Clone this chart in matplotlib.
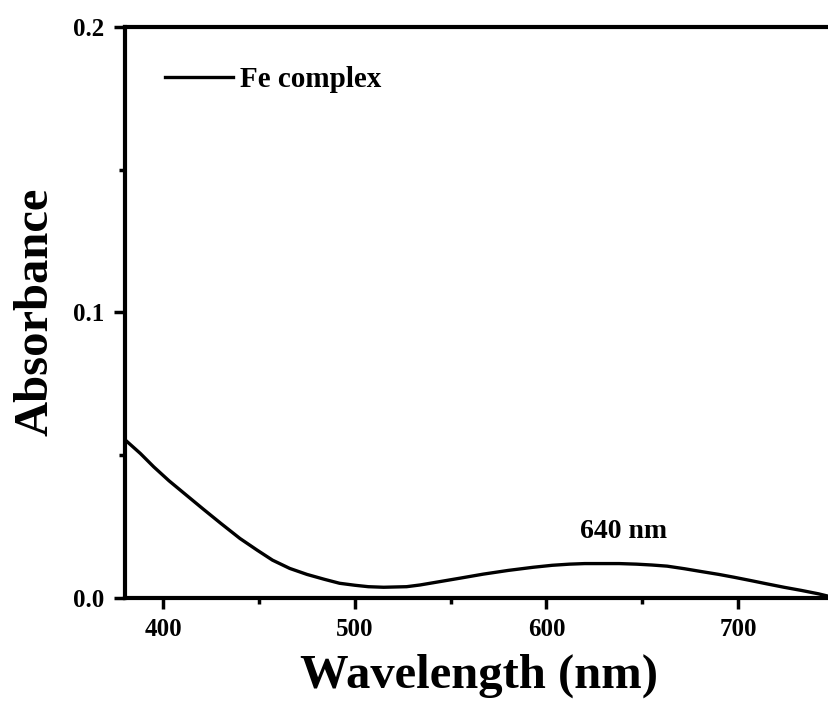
import numpy as np
import matplotlib
matplotlib.use("Agg")
import matplotlib.pyplot as plt
from matplotlib.ticker import MultipleLocator

# values
wavelength = [380, 388, 395, 403, 412, 421, 430, 440, 449, 457, 466, 475,
              484, 492, 500, 507, 515, 527, 534, 541, 548, 555, 567, 580,
              593, 603, 612, 620, 628, 638, 647, 655, 663, 672, 680, 690,
              698, 707, 715, 724, 733, 742, 750]
absorbance = [0.0553, 0.0505, 0.0458, 0.0409, 0.0359, 0.0309, 0.0260, 0.0207,
              0.0166, 0.0131, 0.0102, 0.0081, 0.0064, 0.0050, 0.0043, 0.0038,
              0.0036, 0.0038, 0.0044, 0.0052, 0.0060, 0.0068, 0.0082, 0.0095,
              0.0106, 0.0113, 0.0117, 0.0119, 0.0119, 0.0119, 0.0117, 0.0114,
              0.0110, 0.0101, 0.0092, 0.0081, 0.0071, 0.0059, 0.0048, 0.0036,
              0.0025, 0.0013, 0.0]
series_label = "Fe complex"
peak_label = "640 nm"

plt.rcParams["font.family"] = ["Liberation Serif", "DejaVu Serif"]
plt.rcParams["font.weight"] = "bold"

fig = plt.figure(figsize=(8.29, 7.01), dpi=100)
ax = fig.add_axes([0.1508, 0.1476, 0.855, 0.814])

ax.plot(wavelength, absorbance, color="black", lw=2.4, label=series_label,
        solid_joinstyle="round")
ax.set_xlim(380, 750)
ax.set_ylim(0, 0.2)

ax.xaxis.set_major_locator(MultipleLocator(100))
ax.xaxis.set_minor_locator(MultipleLocator(50))
ax.yaxis.set_major_locator(MultipleLocator(0.1))
ax.yaxis.set_minor_locator(MultipleLocator(0.05))
ax.yaxis.set_major_formatter(lambda v, p: f"{v:.1f}")

for s in ax.spines.values():
    s.set_linewidth(3)
ax.tick_params(which="major", direction="out", length=8, width=2.5,
               labelsize=18, pad=7)
ax.tick_params(which="minor", direction="out", length=4, width=2.5)

ax.set_xlabel("Wavelength (nm)", fontsize=35, fontweight="bold", labelpad=9)
ax.set_ylabel("Absorbance", fontsize=35, fontweight="bold", labelpad=11)

ax.text(640, 0.0233, peak_label, ha="center", va="center", fontsize=20,
        fontweight="bold")

ax.legend(loc="upper left", bbox_to_anchor=(0.02, 0.978), frameon=False,
          handlelength=2.3, handletextpad=0.25,
          prop={"weight": "bold", "size": 21})

fig.savefig("out.png", dpi=100)
